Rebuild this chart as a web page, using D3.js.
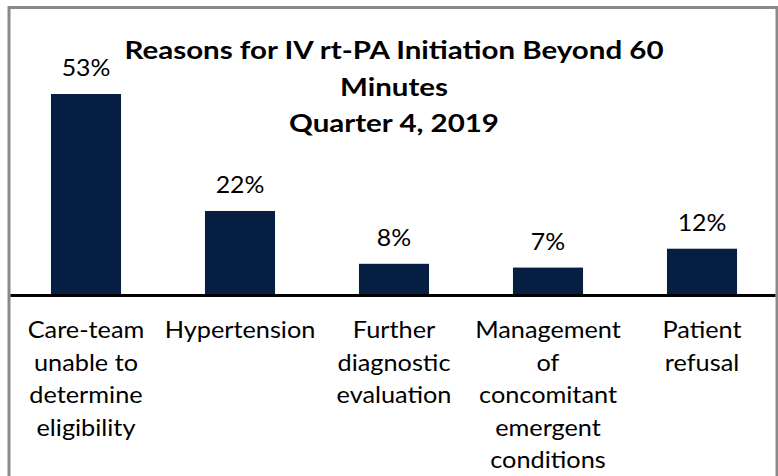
<!DOCTYPE html>
<html>
<head>
<meta charset="utf-8">
<script src="https://cdn.jsdelivr.net/npm/d3@7"></script>
<style>
  html, body { margin: 0; padding: 0; background: #fff; }
  svg { display: block; }
  text { font-family: Lato, "Open Sans", sans-serif; fill: #000; }
</style>
</head>
<body>
<svg id="chart" width="778" height="476"></svg>
<script>
const categories = [
  "Care-team unable to determine eligibility",
  "Hypertension",
  "Further diagnostic evaluation",
  "Management of concomitant emergent conditions",
  "Patient refusal"
];
const categoryLines = [
  ["Care-team", "unable to", "determine", "eligibility"],
  ["Hypertension"],
  ["Further", "diagnostic", "evaluation"],
  ["Management", "of", "concomitant", "emergent", "conditions"],
  ["Patient", "refusal"]
];
const values = [53, 22, 8, 7, 12];
const valueLabels = ["53%", "22%", "8%", "7%", "12%"];
const titleLines = [
  "Reasons for IV rt-PA Initiation Beyond 60",
  "Minutes",
  "Quarter 4, 2019"
];

const svg = d3.select("#chart");

// outer border
svg.append("rect")
  .attr("x", 9).attr("y", 7.5)
  .attr("width", 768).attr("height", 500)
  .attr("fill", "none")
  .attr("stroke", "#8a8a8a")
  .attr("stroke-width", 3);

const x = d3.scaleBand()
  .domain(categories)
  .range([9, 779])
  .paddingInner(0.545)
  .paddingOuter(0.2725);

const y = d3.scaleLinear()
  .domain([0, 53])
  .range([294, 94]);

svg.append("g").selectAll("rect")
  .data(values)
  .join("rect")
  .attr("x", (d, i) => x(categories[i]))
  .attr("width", x.bandwidth())
  .attr("y", d => y(d))
  .attr("height", d => y(0) - y(d))
  .attr("fill", "#061e41");

// value labels
svg.append("g").selectAll("text")
  .data(values)
  .join("text")
  .attr("transform", (d, i) => `translate(${x(categories[i]) + x.bandwidth() / 2},${y(d) - 18}) scale(1.08,1)`)
  .attr("text-anchor", "middle")
  .attr("font-size", 23)
  .text((d, i) => valueLabels[i]);

// baseline axis
const xAxis = d3.axisBottom(x).tickSize(0).tickFormat("");
const ax = svg.append("g")
  .attr("transform", `translate(0,${y(0) + 1.5})`)
  .call(xAxis);
ax.select(".domain")
  .attr("d", "M10.5,0H775.5")
  .attr("stroke", "#000")
  .attr("stroke-width", 3);

// category labels
const catG = svg.append("g").selectAll("g")
  .data(categories)
  .join("g")
  .attr("transform", d => `translate(${x(d) + x.bandwidth() / 2},338)`);
catG.each(function (d, i) {
  d3.select(this).selectAll("text")
    .data(categoryLines[i])
    .join("text")
    .attr("transform", (t, j) => `translate(0,${j * 32.5}) scale(1.1,1)`)
    .attr("text-anchor", "middle")
    .attr("font-size", 23)
    .text(t => t);
});

// title
svg.append("g").selectAll("text")
  .data(titleLines)
  .join("text")
  .attr("transform", (t, i) => `translate(394,${59 + i * 36.5}) scale(1.18,1)`)
  .attr("text-anchor", "middle")
  .attr("font-size", 25)
  .attr("font-weight", "bold")
  .text(t => t);
</script>
</body>
</html>
